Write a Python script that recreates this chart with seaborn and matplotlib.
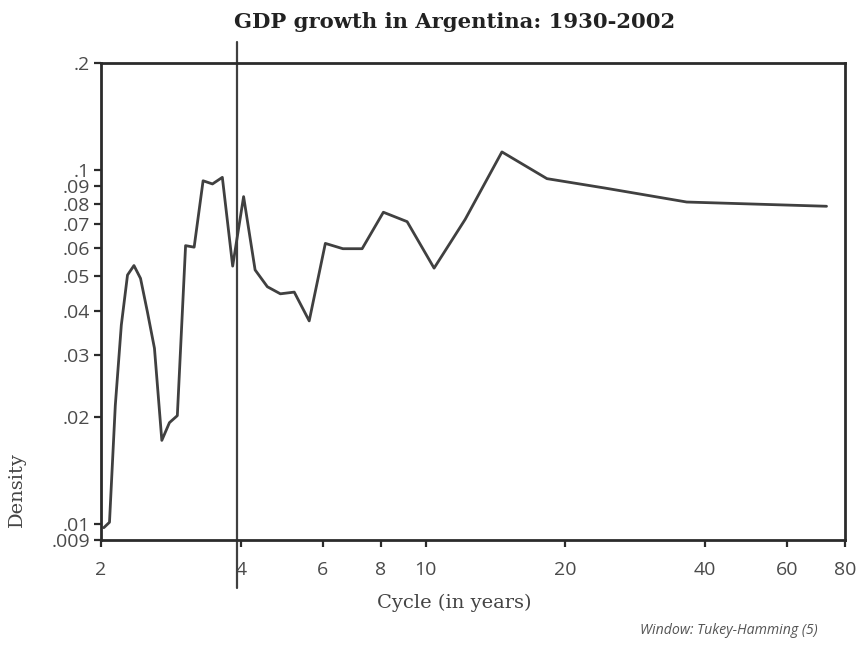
import matplotlib
matplotlib.use("Agg")
import matplotlib.pyplot as plt
import matplotlib.transforms as mtransforms
import seaborn as sns
import pandas as pd

# Spectral density of GDP growth by cycle length (years)
cycle_years = [73.0, 36.5, 24.33, 18.25, 14.6, 12.17, 10.43, 9.125, 8.111, 7.3,
               6.636, 6.083, 5.615, 5.214, 4.867, 4.563, 4.294, 4.056, 3.842, 3.65,
               3.476, 3.318, 3.174, 3.042, 2.92, 2.808, 2.704, 2.607, 2.517, 2.433,
               2.355, 2.281, 2.212, 2.147, 2.086, 2.028]
density = [0.0788, 0.0810, 0.0887, 0.0943, 0.1122, 0.0724, 0.0527, 0.0713, 0.0758, 0.0598,
           0.0598, 0.0619, 0.0374, 0.0451, 0.0446, 0.0467, 0.0521, 0.0839, 0.0534, 0.0951,
           0.0911, 0.0930, 0.0604, 0.0610, 0.0202, 0.0193, 0.0172, 0.0313, 0.0397, 0.0493,
           0.0536, 0.0504, 0.0364, 0.0216, 0.0101, 0.00975]

marker_cycle = 3.92

x_ticks = [2, 4, 6, 8, 10, 20, 40, 60, 80]
x_tick_labels = ["2", "4", "6", "8", "10", "20", "40", "60", "80"]
y_ticks = [0.009, 0.01, 0.02, 0.03, 0.04, 0.05, 0.06, 0.07, 0.08, 0.09, 0.1, 0.2]
y_tick_labels = [".009", ".01", ".02", ".03", ".04", ".05", ".06", ".07", ".08", ".09", ".1", ".2"]

df = pd.DataFrame({"cycle": cycle_years, "density": density})

sns.set_style("ticks")
plt.rcParams["font.family"] = ["Open Sans", "DejaVu Sans"]

ink = "#2b2b2b"
fig = plt.figure(figsize=(8.58, 6.45), dpi=100)
ax = fig.add_axes([101 / 858, 1 - 540 / 645, 744 / 858, 477 / 645])

sns.lineplot(data=df, x="cycle", y="density", ax=ax, color="#404040",
             linewidth=2.0, sort=True, estimator=None)

ax.set_xscale("log")
ax.set_yscale("log")
ax.set_xlim(2, 80)
ax.set_ylim(0.009, 0.2)

ax.minorticks_off()
ax.set_xticks(x_ticks)
ax.set_xticklabels(x_tick_labels)
ax.set_yticks(y_ticks)
ax.set_yticklabels(y_tick_labels)
ax.tick_params(axis="both", which="major", length=5, width=1.6, color=ink,
               labelsize=14, labelcolor="#4a4a4a")
ax.tick_params(axis="x", pad=10)
ax.tick_params(axis="y", pad=3)
ax.set_xlabel("")
ax.set_ylabel("")

for side in ["left", "bottom", "top", "right"]:
    ax.spines[side].set_visible(True)
    ax.spines[side].set_linewidth(2.0)
    ax.spines[side].set_color(ink)

# Reference cycle marker running past the plotting area
trans = mtransforms.blended_transform_factory(ax.transData, ax.transAxes)
ax.plot([marker_cycle, marker_cycle], [-0.10, 1.044], transform=trans,
        color="#404040", linewidth=1.6, clip_on=False)

fig.text(455 / 858, 1 - 22 / 645, "GDP growth in Argentina: 1930-2002",
         ha="center", va="center", fontsize=15.2, fontweight="bold",
         family=["DejaVu Serif"], color="#222222")
fig.text(454 / 858, 1 - 603 / 645, "Cycle (in years)", ha="center", va="center",
         fontsize=14, family=["DejaVu Serif"], color="#444444")
fig.text(17 / 858, 1 - 490 / 645, "Density", ha="center", va="center",
         rotation=90, fontsize=14, family=["DejaVu Serif"], color="#444444")
fig.text(818 / 858, 1 - 631 / 645, "Window: Tukey-Hamming (5)", ha="right",
         va="center", fontsize=10.2, style="italic", color="#555555")

fig.savefig("out.png", dpi=100, facecolor="white")
